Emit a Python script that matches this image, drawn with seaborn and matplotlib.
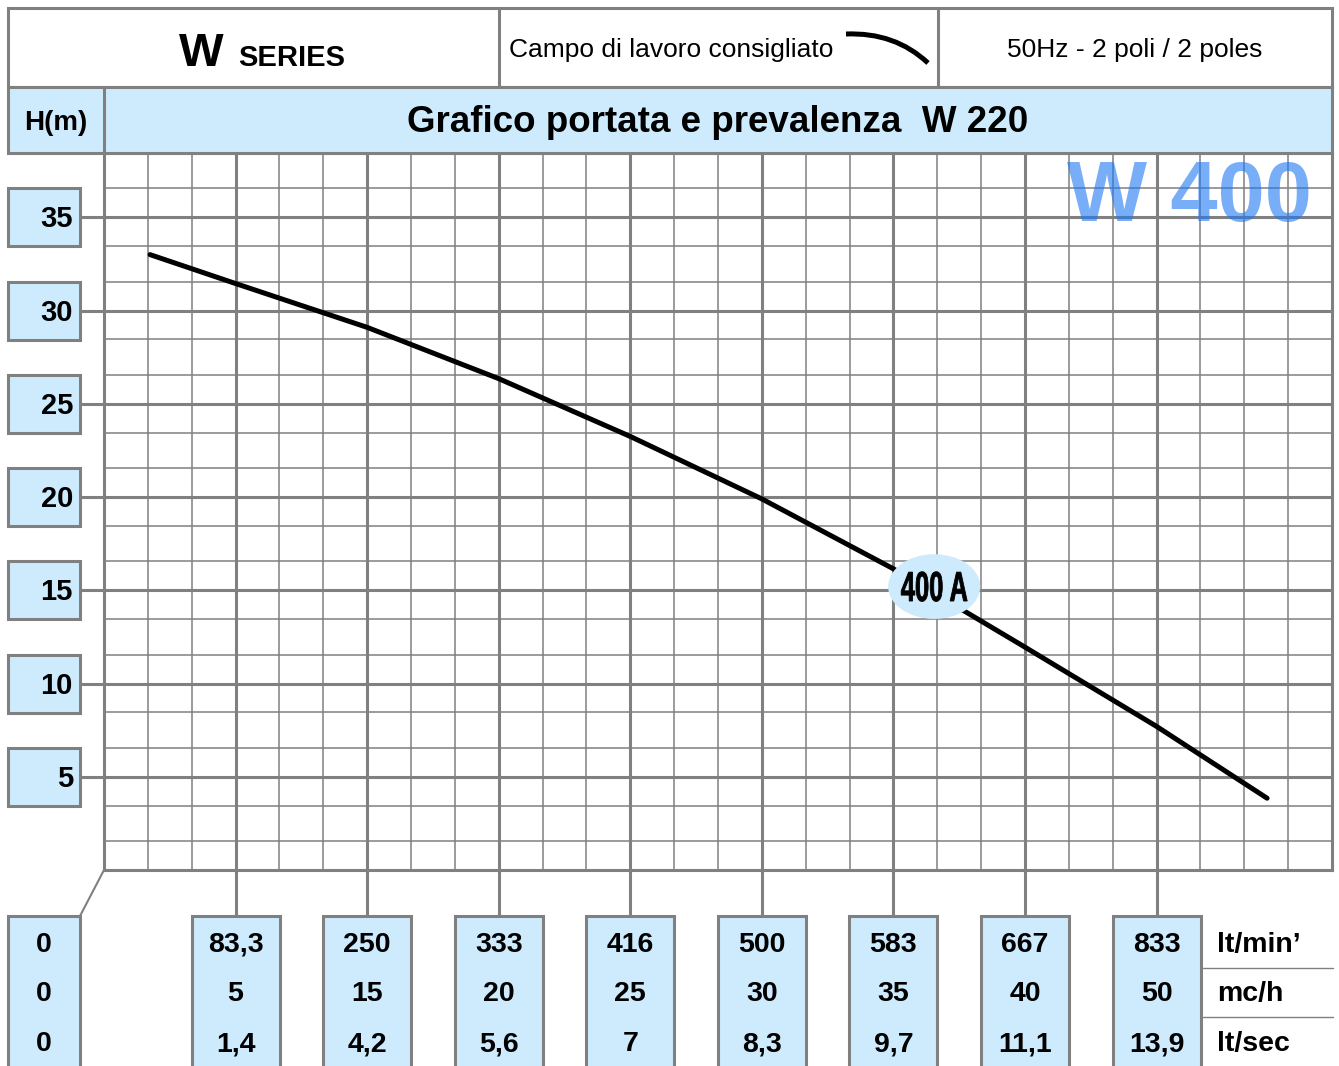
import numpy as np
import matplotlib
matplotlib.use('Agg')
import matplotlib.pyplot as plt
from matplotlib import font_manager
from matplotlib.patches import Rectangle, Ellipse, PathPatch
from matplotlib.path import Path
from matplotlib.textpath import TextPath
from matplotlib.transforms import Affine2D
import seaborn as sns

# y axis (head, m)
heights = [35, 30, 25, 20, 15, 10, 5]

# x axis: equally spaced stations, labelled in three units
flow_lpm = ['0', '83,3', '250', '333', '416', '500', '583', '667', '833']
flow_m3h = ['0', '5', '15', '20', '25', '30', '35', '40', '50']
flow_lps = ['0', '1,4', '4,2', '5,6', '7', '8,3', '9,7', '11,1', '13,9']
unit_names = ["lt/min\u2019", 'mc/h', 'lt/sec']

# pump curve (x in station units)
curve_x = [0.35, 1, 2, 3, 4, 5, 6, 7, 8, 8.84]
curve_h = [33.0, 31.45, 29.1, 26.35, 23.25, 19.9, 16.15, 11.95, 7.7, 3.85]
curve_name = '400 A'
label_x, label_h = 6.31, 15.2

model = 'W 400'
title = 'Grafico portata e prevalenza  W 220'

sns.set_style('white')
names = {f.name for f in font_manager.fontManager.ttflist}
narrow = 'Liberation Sans Narrow' in names
plt.rcParams['font.family'] = ['Liberation Sans', 'DejaVu Sans']
plt.rcParams['text.color'] = 'black'
narrow_fam = ['Liberation Sans Narrow', 'Liberation Sans', 'DejaVu Sans']

W, H = 1339, 1066
grey = '#808080'
blue = '#cdebfd'

fig = plt.figure(figsize=(W / 100, H / 100), dpi=100)
ax = fig.add_axes([104 / W, (H - 870) / H, (1332 - 104) / W, (870 - 153) / H])

sns.lineplot(x=curve_x, y=curve_h, ax=ax, color='black', lw=3.6, zorder=3)
ax.lines[0].set_solid_joinstyle('round')
ax.set_xlim(0, 28 / 3)
ax.set_ylim(0, 38.32)
ax.set_xticks(range(1, 9))
ax.set_xticks([i / 3 for i in range(1, 27) if i % 3] + [9], minor=True)
ax.set_yticks(heights)
ax.set_yticks([5 * k + d for k in range(8) for d in (1.55, 3.45)], minor=True)
ax.grid(which='major', color=grey, lw=2.2)
ax.grid(which='minor', color=grey, lw=1.1)
ax.set_axisbelow(True)
ax.tick_params(which='both', length=0, labelbottom=False, labelleft=False)
ax.set(xlabel='', ylabel='')
for s in ax.spines.values():
    s.set_visible(True)
    s.set_color(grey)
    s.set_linewidth(2.2)

ax.add_patch(Ellipse((label_x, label_h), 0.70, 3.47, fc=blue, ec='none', zorder=4))
ax.text(8.25, 36.0, model, ha='center', va='center', fontsize=61, fontweight='bold',
        color='#1f77f4', alpha=0.6, zorder=2)

# overlay in pixel coordinates for the table-like frame
ov = fig.add_axes([0, 0, 1, 1], facecolor='none')
ov.set_xlim(0, W)
ov.set_ylim(H, 0)
ov.axis('off')


def px(x, y):
    dx, dy = ax.transData.transform((x, y))
    return dx, H - dy


def box(x0, y0, x1, y1, fc, lw=2.2):
    ov.add_patch(Rectangle((x0, y0), x1 - x0, y1 - y0, fc=fc, ec=grey, lw=lw))


# condensed curve label drawn as a squeezed text path
lx, ly = px(label_x, label_h)
tp = TextPath((0, 0), curve_name, size=42,
              prop=font_manager.FontProperties(family='Liberation Sans', weight='bold'))
bb = tp.get_extents()
sx = 66 / bb.width
tr = (Affine2D().translate(-(bb.x0 + bb.width / 2), -(bb.y0 + bb.height / 2))
      .scale(sx, -1).translate(lx, ly))
ov.add_patch(PathPatch(tr.transform_path(tp), fc='black', ec='black', lw=0.6, zorder=6))

# header
box(8, 8, 1332, 87, 'white')
ov.plot([499, 499], [8, 87], color=grey, lw=2.2)
ov.plot([938, 938], [8, 87], color=grey, lw=2.2)
box(8, 87, 1332, 153, blue)
ov.plot([104, 104], [87, 153], color=grey, lw=2.2)

ov.text(201, 66, 'W', ha='center', va='baseline', fontsize=34, fontweight='bold')
ov.text(238, 66, 'SERIES', ha='left', va='baseline', fontsize=21, fontweight='bold')
ov.text(509, 50, 'Campo di lavoro consigliato', ha='left', va='center',
        fontsize=23 if narrow else 19, family=narrow_fam)
ov.text(1135, 50, '50Hz - 2 poli / 2 poles', ha='center', va='center',
        fontsize=23 if narrow else 19, family=narrow_fam)
sample = Path([(846, 34), (895, 32), (928, 63)], [Path.MOVETO, Path.CURVE3, Path.CURVE3])
ov.add_patch(PathPatch(sample, fc='none', ec='black', lw=3.6))

ov.text(56, 123, 'H(m)', ha='center', va='center', fontsize=20, fontweight='bold')
ov.text(718, 123, title, ha='center', va='center', fontsize=26.5, fontweight='bold')

# y labels
for h in heights:
    x0, py = px(0, h)
    box(8, py - 29, 80, py + 29, blue)
    ov.plot([80, x0], [py, py], color=grey, lw=2.2)
    ov.text(73, py + 2, str(h), ha='right', va='center', fontsize=21, fontweight='bold')

# x labels
rows_y = [945, 994, 1044]
for i in range(len(flow_lpm)):
    cx, py = px(i, 0)
    if i == 0:
        box(8, 916, 80, 1080, blue)
        ov.plot([cx, 80], [py, 916], color=grey, lw=1.5)
        tx = 44
    else:
        box(cx - 44, 916, cx + 44, 1080, blue)
        ov.plot([cx, cx], [py, 916], color=grey, lw=2.2)
        tx = cx
    for ry, vals in zip(rows_y, (flow_lpm, flow_m3h, flow_lps)):
        ov.text(tx, ry, vals[i], ha='center', va='center', fontsize=20.5, fontweight='bold')

for ry, name in zip(rows_y, unit_names):
    ov.text(1217, ry, name, ha='left', va='center', fontsize=20.5, fontweight='bold')
for sy in (967.5, 1016.5):
    ov.plot([1203, 1333], [sy, sy], color=grey, lw=1.0)

fig.savefig('out.png', dpi=100)
